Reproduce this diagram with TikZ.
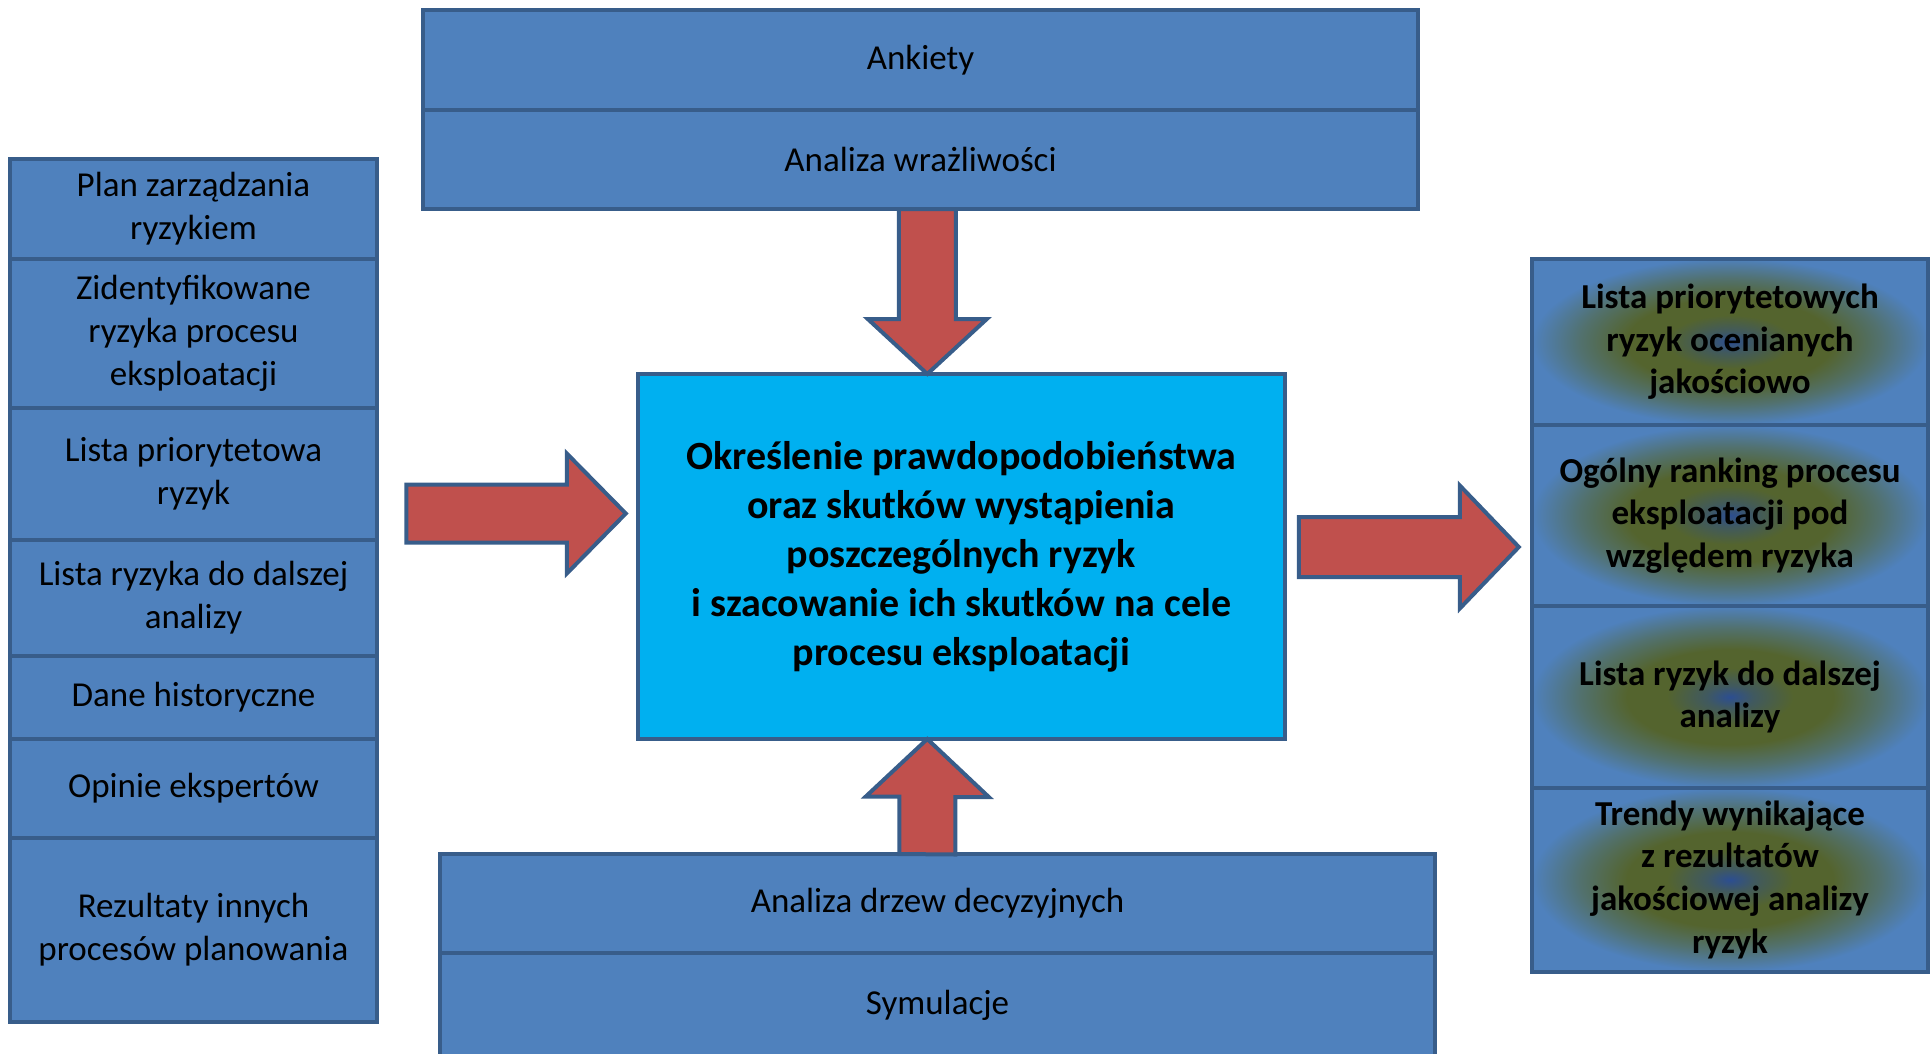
\documentclass[tikz,border=0pt]{standalone}
\usepackage{fontspec}
\setmainfont{Carlito}
\usepackage{xcolor}
\usetikzlibrary{positioning,calc}
\definecolor{cellblue}{RGB}{79, 129, 189}
\definecolor{edgeblue}{RGB}{56, 93, 138}
\definecolor{coreblue}{RGB}{0, 176, 240}
\definecolor{arrowred}{RGB}{192, 80, 77}
\definecolor{glowolive}{RGB}{84, 100, 46}
\definecolor{glowblue}{RGB}{44, 78, 145}
\colorlet{glowmix}{glowblue!50!glowolive}
\colorlet{glowfade}{glowolive!55!cellblue}
\pgfdeclareradialshading{resultglow}{\pgfpoint{0bp}{0bp}}{color(0bp)=(glowblue); color(3bp)=(glowmix); color(8bp)=(glowolive); color(13bp)=(glowolive); color(19bp)=(glowfade); color(25bp)=(cellblue); color(50bp)=(cellblue)}

\begin{document}
\begin{tikzpicture}[
    x=1pt, y=-1pt,
    every text node part/.style={align=center},
    base/.style={draw=edgeblue, line width=4pt, inner sep=0pt, outer sep=0pt},
    cell/.style={base, fill=cellblue, font=\fontsize{35}{42.7}\selectfont},
    leftcell/.style={cell, minimum width=367pt},
    widecell/.style={cell, minimum width=995pt},
    resultcell/.style={base, shading=resultglow, minimum width=396pt, font=\fontsize{35}{42.7}\selectfont\bfseries},
    core/.style={base, fill=coreblue, minimum width=647pt, minimum height=365pt, font=\fontsize{40}{49}\selectfont\bfseries},
    bigarrow/.style={fill=arrowred, draw=edgeblue, line width=4pt, line join=miter}
]
\useasboundingbox (0,0) rectangle (1930,1053);

% Nodes
\node (survey) [widecell, minimum height=100pt] at (920.5,60) {Ankiety};
\node (sens) [widecell, minimum height=99pt, below=0pt of survey] {Analiza wrażliwości};

\node (plan) [leftcell, minimum height=99.5pt] at (193.5,208.75) {Plan zarządzania\\ryzykiem};
\node (ident) [leftcell, minimum height=149.5pt, below=0pt of plan] {Zidentyfikowane\\ryzyka procesu\\eksploatacji};
\node (prio) [leftcell, minimum height=131.5pt, below=0pt of ident] {Lista priorytetowa\\ryzyk};
\node (further) [leftcell, minimum height=116.5pt, below=0pt of prio] {Lista ryzyka do dalszej\\analizy};
\node (hist) [leftcell, minimum height=83pt, below=0pt of further] {Dane historyczne};
\node (expert) [leftcell, minimum height=99pt, below=0pt of hist] {Opinie ekspertów};
\node (other) [leftcell, minimum height=184pt, below=0pt of expert] {Rezultaty innych\\procesów planowania};

\node (core) [core] at (961.3,556.5) {Określenie prawdopodobieństwa\\oraz skutków wystąpienia\\poszczególnych ryzyk\\i szacowanie ich skutków na cele\\procesu eksploatacji};

\node (rprio) [resultcell, minimum height=166.5pt] at (1730,341.75) {Lista priorytetowych\\ryzyk ocenianych\\jakościowo};
\node (rank) [resultcell, minimum height=181pt, below=0pt of rprio] {Ogólny ranking procesu\\eksploatacji pod\\względem ryzyka};
\node (rlist) [resultcell, minimum height=182pt, below=0pt of rank] {Lista ryzyk do dalszej\\analizy};
\node (trend) [resultcell, minimum height=183.5pt, below=0pt of rlist] {Trendy wynikające\\z rezultatów\\jakościowej analizy\\ryzyk};

\node (tree) [widecell, minimum height=99pt] at (937.5,903.5) {Analiza drzew decyzyjnych};
\node (sim) [widecell, minimum height=104pt, below=0pt of tree] {Symulacje};

% Connectors
\coordinate (dnTip) at ($(core.north)+(-34,0)$);
\coordinate (upTip) at ($(core.south)+(-34,0)$);
\coordinate (inTip) at ($(core.west)+(-12,-43)$);
\coordinate (outTail) at ($(core.east)+(14,-9.5)$);

\draw [bigarrow] (dnTip |- sens.south) ++(-28.5,0) -- ++(0,110) -- ++(-31,0) -- (dnTip) -- ++(59.5,-55) -- ++(-31,0) -- ++(0,-110) -- cycle;
\draw [bigarrow] (upTip |- tree.north) ++(-28,0) -- ++(0,-57.5) -- ++(-33.5,0) -- (upTip) -- ++(61.5,58) -- ++(-33.5,0) -- ++(0,57.5) -- cycle;
\draw [bigarrow] (inTip) ++(-219.5,-29) -- ++(160.5,0) -- ++(0,-31) -- (inTip) -- ++(-59,60) -- ++(0,-31) -- ++(-160.5,0) -- cycle;
\draw [bigarrow] (outTail) ++(0,-30) -- ++(161,0) -- ++(0,-31.5) -- ++(59,61.5) -- ++(-59,61.5) -- ++(0,-31.5) -- ++(-161,0) -- cycle;

\end{tikzpicture}
\end{document}
